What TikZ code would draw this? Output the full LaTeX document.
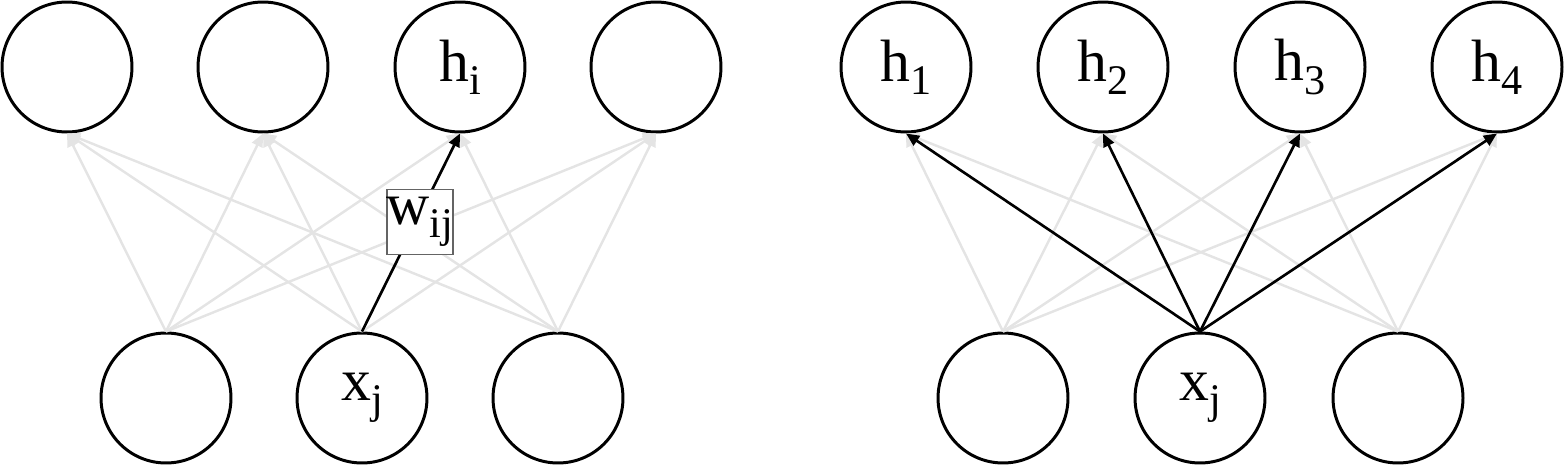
\documentclass[tikz,border=0pt]{standalone}
\usepackage{fontspec}
\setmainfont{Liberation Serif}
\usetikzlibrary{arrows.meta}
\newcommand{\lbl}[2]{\fontsize{34}{34}\selectfont #1\raisebox{-0.22em}{\fontsize{24}{24}\selectfont #2}}
\begin{document}
\begin{tikzpicture}[x=0.02cm,y=-0.02cm,
  neuron/.style={circle,draw=black,line width=1.7pt,minimum size=2.6cm,inner sep=0pt,fill=white},
  faint/.style={draw={rgb,255:red,228;green,228;blue,228},line width=1.4pt,-{Triangle[length=7.5pt,width=6.5pt]}},
  strong/.style={draw=black,line width=1.5pt,-{Triangle[length=7.5pt,width=6.5pt]}},
  wbox/.style={draw={rgb,255:red,100;green,100;blue,100},line width=1pt,fill=white,minimum width=1.24cm,minimum height=1.3cm,inner sep=0pt}]
\useasboundingbox (0,0) rectangle (1568,466);
% left panel
\node[neuron] (a1) at (67,67) {};
\node[neuron] (a2) at (263,67) {};
\node[neuron] (a3) at (460,67) {\lbl{h}{i}};
\node[neuron] (a4) at (656,67) {};
\node[neuron] (b1) at (166,398) {};
\node[neuron] (b2) at (362,398) {\lbl{x}{j}};
\node[neuron] (b3) at (558,398) {};
\foreach \b in {b1,b2,b3}{
  \foreach \a in {a1,a2,a3,a4}{
    \draw[faint] (\b.north) -- (\a.south);
  }
}
\draw[strong] (b2.north) -- (a3.south);
\node[wbox] (w) at (420,222) {\lbl{w}{ij}};
% right panel
\node[neuron] (h1) at (906,67) {\lbl{h}{1}};
\node[neuron] (h2) at (1103,67) {\lbl{h}{2}};
\node[neuron] (h3) at (1300,67) {\lbl{h}{3}};
\node[neuron] (h4) at (1497,67) {\lbl{h}{4}};
\node[neuron] (c1) at (1003,398) {};
\node[neuron] (c2) at (1200,398) {\lbl{x}{j}};
\node[neuron] (c3) at (1398,398) {};
\foreach \b in {c1,c3}{
  \foreach \a in {h1,h2,h3,h4}{
    \draw[faint] (\b.north) -- (\a.south);
  }
}
\foreach \a in {h1,h2,h3,h4}{
  \draw[strong] (c2.north) -- (\a.south);
}
\end{tikzpicture}
\end{document}
